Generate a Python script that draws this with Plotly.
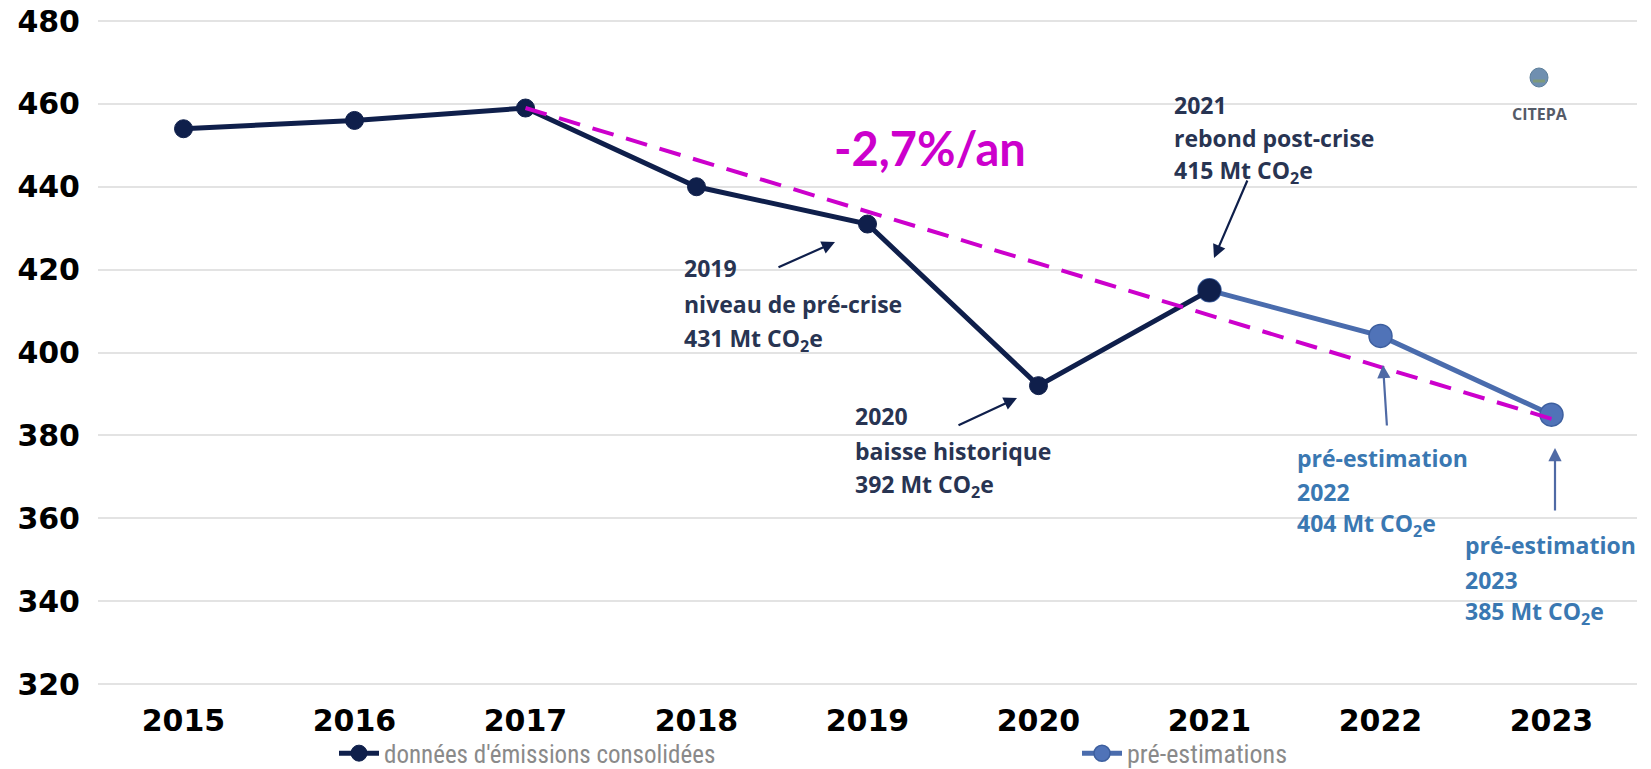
import plotly.graph_objects as go

# ---- data ----
years_consolidated = [2015, 2016, 2017, 2018, 2019, 2020, 2021]
values_consolidated = [454, 456, 459, 440, 431, 392, 415]
years_pre = [2021, 2022, 2023]
values_pre = [415, 404, 385]
trend_years = [2017, 2023]
trend_values = [459, 384]
year_ticks = [2015, 2016, 2017, 2018, 2019, 2020, 2021, 2022, 2023]
y_ticks = [320, 340, 360, 380, 400, 420, 440, 460, 480]
trend_label = "-2,7%/an"
legend_consolidated = "données d'émissions consolidées"
legend_pre = "pré-estimations"

# ---- styling / layout constants (page pixels; page body has 8px margin) ----
OFF = 8
W, H = 1651 - OFF, 769 - OFF
PL, PR, PT, PB = 98, 1637, 21, 684  # page pixel positions of the 320..480 span
X0, X1 = 2014.5, 2023.5
Y0, Y1 = 320, 480
PAD = 2  # extra pixels so edge gridlines are drawn
NAVY = "#0f1f4b"
BLUE = "#4a6cad"
BLUE_FILL = "#5073b8"
MAGENTA = "#cc00cc"
NAVY_TXT = "#283452"
BLUE_TXT = "#3a78b2"

ypp = (Y1 - Y0) / (PB - PT)  # data units per pixel


def xd(px):
    return X0 + (px - PL) / (PR - PL) * (X1 - X0)


def yd(py):
    return Y1 - (py - PT) * ypp


fig = go.Figure()

fig.add_trace(go.Scatter(
    x=years_pre, y=values_pre, mode="lines+markers", name=legend_pre,
    line=dict(color=BLUE, width=5),
    marker=dict(color=BLUE_FILL, size=23, opacity=1, line=dict(color="#3d5f9f", width=1.5)),
    legend="legend2",
))
fig.add_trace(go.Scatter(
    x=years_consolidated, y=values_consolidated, mode="lines+markers",
    name=legend_consolidated,
    line=dict(color=NAVY, width=5),
    marker=dict(color=NAVY, opacity=1, size=[18, 18, 18, 18, 18, 18, 22],
                line=dict(color=NAVY, width=1)),
    legend="legend",
))
fig.add_trace(go.Scatter(
    x=trend_years, y=trend_values, mode="lines", showlegend=False,
    line=dict(color=MAGENTA, width=4, dash="22px,13px"),
))

annotations = []
LABEL_FONT = "Open Sans, sans-serif"


def add_label(lines, left_px, ys_px, color):
    for line, py in zip(lines, ys_px):
        annotations.append(dict(
            x=xd(left_px), y=yd(py), xref="x", yref="y", text=line,
            showarrow=False, xanchor="left", yanchor="middle",
            font=dict(family=LABEL_FONT, size=23, color=color, weight="bold"),
        ))


def add_arrow(tail, head, color):
    annotations.append(dict(
        x=xd(head[0]), y=yd(head[1]), ax=xd(tail[0]), ay=yd(tail[1]),
        xref="x", yref="y", axref="x", ayref="y", text="",
        showarrow=True, arrowhead=2, arrowsize=1.2, arrowwidth=2.2,
        arrowcolor=color, standoff=0, startstandoff=0,
    ))


co2 = "Mt CO<sub>2</sub>e"
add_label(["2019", "niveau de pré-crise", f"{values_consolidated[4]} {co2}"],
          682, [268, 304, 339], NAVY_TXT)
add_arrow((777, 268), (835, 242), NAVY)
add_label(["2020", "baisse historique", f"{values_consolidated[5]} {co2}"],
          853, [416, 451, 485], NAVY_TXT)
add_arrow((957, 426), (1017, 398), NAVY)
add_label(["2021", "rebond post-crise", f"{values_consolidated[6]} {co2}"],
          1172, [105, 138, 171], NAVY_TXT)
add_arrow((1248, 179), (1214, 258), NAVY)
add_label(["pré-estimation", "2022", f"{values_pre[1]} {co2}"],
          1295, [458, 492, 524], BLUE_TXT)
add_arrow((1387, 427), (1383, 365), "#4f6aa5")
add_label(["pré-estimation", "2023", f"{values_pre[2]} {co2}"],
          1463, [545, 580, 612], BLUE_TXT)
add_arrow((1555, 512), (1555, 448), "#4f6aa5")

annotations.append(dict(
    x=xd(930), y=yd(148), xref="x", yref="y", text=trend_label, showarrow=False,
    font=dict(family="Lato, sans-serif", size=47, color=MAGENTA, weight="bold"),
))
annotations.append(dict(
    x=xd(1540), y=yd(114), xref="x", yref="y", text="CITEPA", showarrow=False,
    font=dict(family="Open Sans, sans-serif", size=16, color="#555b68", weight="bold"),
))

# small decorative logo emblem above "CITEPA"
shapes = [
    dict(type="circle", xref="x", yref="y",
         x0=xd(1530), x1=xd(1548), y0=yd(87), y1=yd(68),
         fillcolor="#6f8fb0", line=dict(color="#5d7f9a", width=1)),
    dict(type="line", xref="x", yref="y",
         x0=xd(1533), x1=xd(1545), y0=yd(81), y1=yd(81),
         line=dict(color="#7f9a7a", width=3)),
]

LEG_FONT = "Liberation Sans Narrow, Roboto Condensed, Roboto, sans-serif"
leg_y = -(751 - PB) / (PB - PT)
fig.update_layout(
    width=W, height=H,
    margin=dict(l=PL - OFF, r=W - (PR - OFF), t=PT - OFF - PAD, b=H - (PB - OFF) - PAD,
                autoexpand=False),
    plot_bgcolor="white", paper_bgcolor="white",
    annotations=annotations,
    shapes=shapes,
    xaxis=dict(
        range=[X0, X1], tickvals=year_ticks, ticktext=[str(v) for v in year_ticks],
        showgrid=False, zeroline=False, showline=False, automargin=False,
        tickfont=dict(family="DejaVu Sans", size=30, color="black", weight="bold"),
        ticklabelstandoff=14,
    ),
    yaxis=dict(
        range=[Y0 - PAD * ypp, Y1 + PAD * ypp], tickvals=y_ticks, showgrid=True,
        gridcolor="#e3e3e3", gridwidth=2, zeroline=False, showline=False,
        automargin=False, ticklabeloverflow="allow",
        tickfont=dict(family="DejaVu Sans", size=30, color="black", weight="bold"),
        ticklabelstandoff=17,
    ),
    legend=dict(
        x=(334 - PL) / (PR - PL), xanchor="left", y=leg_y, yanchor="middle",
        font=dict(family=LEG_FONT, size=25, color="#8a8a8a"),
        itemwidth=40, bgcolor="rgba(0,0,0,0)",
    ),
    legend2=dict(
        x=(1077 - PL) / (PR - PL), xanchor="left", y=leg_y, yanchor="middle",
        font=dict(family=LEG_FONT, size=26, color="#8a8a8a"),
        itemwidth=40, bgcolor="rgba(0,0,0,0)",
    ),
)

fig.write_html("out.html")
